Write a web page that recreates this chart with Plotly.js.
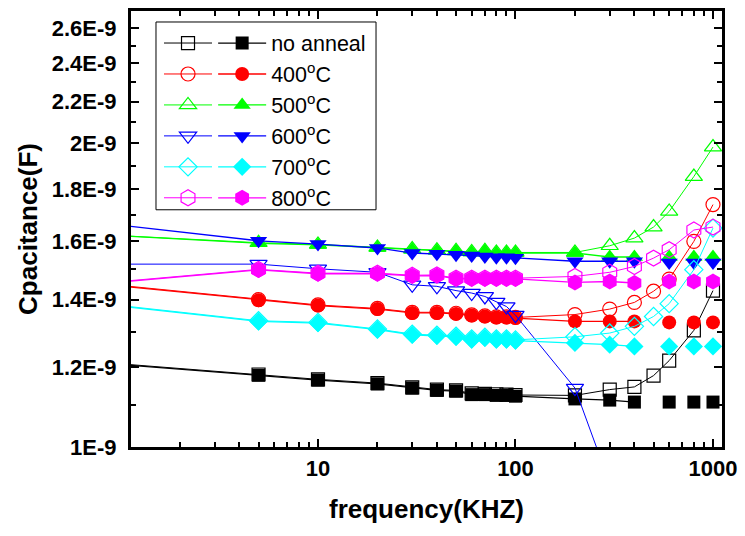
<!DOCTYPE html>
<html>
<head>
<meta charset="utf-8">
<script src="https://cdn.plot.ly/plotly-3.0.1.min.js"></script>
<style>html,body{margin:0;padding:0;background:#fff;}#chart{width:745px;height:536px;}</style>
</head>
<body>
<div id="chart"></div>
<script>
// frequencies (kHz)
var freqLine = [1,5,10,20,30,40,50,60,70,80,90,100,200,300,400];
var freqTail = [600,800,1000];
var freqOpen = [1,5,10,20,30,40,50,60,70,80,90,100,200,300,400,500,600,800,1000];
var freqOpen600 = [1,5,10,20,30,40,50,60,70,80,90,100,200,300];

// capacitance values in units of 1E-9 F
var noAnnealFilled = [1.207,1.178,1.165,1.155,1.144,1.138,1.136,1.127,1.127,1.125,1.125,1.123,1.116,1.113,1.108];
var noAnnealTail   = [1.108,1.108,1.108];
var noAnnealOpen   = [1.209,1.180,1.167,1.157,1.146,1.140,1.138,1.130,1.129,1.128,1.127,1.126,1.125,1.140,1.147,1.177,1.218,1.305,1.429];

var c400Filled = [1.444,1.398,1.381,1.370,1.358,1.358,1.355,1.350,1.347,1.344,1.344,1.342,1.332,1.332,1.332];
var c400Tail   = [1.329,1.329,1.329];
var c400Open   = [1.446,1.400,1.383,1.372,1.360,1.360,1.357,1.352,1.349,1.346,1.346,1.344,1.353,1.370,1.391,1.427,1.467,1.599,1.739];

var c500Filled = [1.619,1.592,1.586,1.575,1.569,1.565,1.563,1.559,1.563,1.557,1.557,1.557,1.557,1.543,1.543];
var c500Tail   = [1.543,1.543,1.543];
var c500Open   = [1.620,1.594,1.588,1.577,1.571,1.567,1.565,1.561,1.565,1.559,1.559,1.559,1.559,1.583,1.611,1.652,1.712,1.854,1.983];

var c600Filled = [1.659,1.601,1.589,1.575,1.557,1.554,1.551,1.548,1.545,1.542,1.542,1.540,1.528,1.528,1.528];
var c600Tail   = [1.524,1.524,1.524];
var c600Open   = [1.518,1.518,1.502,1.490,1.448,1.443,1.429,1.421,1.410,1.392,1.378,1.351,1.144,0.92];

var c700Filled = [1.379,1.332,1.327,1.307,1.292,1.289,1.286,1.278,1.283,1.278,1.278,1.275,1.268,1.263,1.258];
var c700Tail   = [1.258,1.258,1.258];
var c700Open   = [1.381,1.334,1.329,1.309,1.294,1.291,1.288,1.280,1.285,1.280,1.280,1.277,1.286,1.297,1.317,1.347,1.387,1.499,1.648];

var c800Filled = [1.457,1.498,1.485,1.485,1.478,1.479,1.468,1.468,1.468,1.468,1.468,1.468,1.456,1.459,1.454];
var c800Tail   = [1.459,1.459,1.459];
var c800Open   = [1.459,1.500,1.487,1.487,1.480,1.481,1.470,1.470,1.470,1.470,1.470,1.470,1.476,1.490,1.510,1.539,1.569,1.641,1.652];

var seriesNames = ['no anneal','400<sup>o</sup>C','500<sup>o</sup>C','600<sup>o</sup>C','700<sup>o</sup>C','800<sup>o</sup>C'];

var yTickVals = [1.0,1.2,1.4,1.6,1.8,2.0,2.2,2.4,2.6];
var yTickText = ['1E-9','1.2E-9','1.4E-9','1.6E-9','1.8E-9','2E-9','2.2E-9','2.4E-9','2.6E-9'];
var yMinorVals = [1.1,1.3,1.5,1.7,1.9,2.1,2.3,2.5,2.7];
var xTickVals = [10,100,1000];
var xTickText = ['10','100','1000'];
var xMinorVals = [2,3,4,5,6,7,8,9,20,30,40,50,60,70,80,90,200,300,400,500,600,700,800,900];

var scale = 1e-9;
function sc(a){ return a.map(function(v){ return v*scale; }); }

var series = [
  {name: seriesNames[0], color:'#000000', sym:'square',        size:13,   f:noAnnealFilled, t:noAnnealTail, o:noAnnealOpen, fo:freqOpen},
  {name: seriesNames[1], color:'#ff0000', sym:'circle',        size:14,   f:c400Filled, t:c400Tail, o:c400Open, fo:freqOpen},
  {name: seriesNames[2], color:'#00ff00', sym:'triangle-up',   size:15,   f:c500Filled, t:c500Tail, o:c500Open, fo:freqOpen},
  {name: seriesNames[3], color:'#0000ff', sym:'triangle-down', size:15,   f:c600Filled, t:c600Tail, o:c600Open, fo:freqOpen600},
  {name: seriesNames[4], color:'#00ffff', sym:'diamond',       size:14,   f:c700Filled, t:c700Tail, o:c700Open, fo:freqOpen},
  {name: seriesNames[5], color:'#ff00ff', sym:'hexagon',       size:16,   f:c800Filled, t:c800Tail, o:c800Open, fo:freqOpen}
];

var traces = [];
series.forEach(function(s){
  traces.push({
    type:'scatter', mode:'lines+markers', x:s.fo, y:sc(s.o), name:'', legend:'legend2',
    line:{color:s.color, width:1},
    marker:{symbol:s.sym+'-open', size:s.size, color:s.color, line:{color:s.color, width:1.2}},
    hoverinfo:'skip'
  });
  traces.push({
    type:'scatter', mode:'lines+markers', x:freqLine, y:sc(s.f), name:s.name, legend:'legend',
    line:{color:s.color, width:1.3},
    marker:{symbol:s.sym, size:s.size, color:s.color, line:{width:0}},
    hoverinfo:'skip'
  });
  traces.push({
    type:'scatter', mode:'markers', x:freqTail, y:sc(s.t), showlegend:false,
    marker:{symbol:s.sym, size:s.size, color:s.color, line:{width:0}},
    hoverinfo:'skip'
  });
});

var FONT = 'Liberation Sans, Arial, Helvetica, sans-serif';
var tickFont = {family:FONT, size:22, color:'#000', weight:'bold'};
var titleFont = {family:FONT, size:26, color:'#000', weight:'bold'};
var legFont = {family:FONT, size:21.5, color:'#000'};

var layout = {
  width:745, height:536,
  margin:{l:131, r:23, t:11, b:88.5, pad:0},
  paper_bgcolor:'#fff', plot_bgcolor:'#fff',
  showlegend:true,
  xaxis:{
    type:'log', range:[0.0532, 3.0456], autorange:false,
    tickmode:'array', tickvals:xTickVals, ticktext:xTickText,
    ticks:'inside', ticklen:8, tickwidth:2, tickcolor:'#000',
    showline:true, linewidth:3, linecolor:'#000', mirror:'allticks',
    showgrid:false, zeroline:false, tickfont:tickFont,
    minor:{tickmode:'array', tickvals:xMinorVals, ticks:'inside', ticklen:5, tickwidth:2, tickcolor:'#000', showgrid:false},
    title:{text:'frequency(KHZ)', font:titleFont, standoff:20}
  },
  yaxis:{
    type:'log', range:[-9, -8.5678], autorange:false,
    tickmode:'array', tickvals:sc(yTickVals), ticktext:yTickText,
    ticks:'inside', ticklen:8, tickwidth:2, tickcolor:'#000',
    showline:true, linewidth:3, linecolor:'#000', mirror:'allticks',
    showgrid:false, zeroline:false, tickfont:tickFont, ticklabelstandoff:7,
    minor:{tickmode:'array', tickvals:sc(yMinorVals), ticks:'inside', ticklen:5, tickwidth:2, tickcolor:'#000', showgrid:false},
    title:{text:'Cpacitance(F)', font:titleFont, standoff:7}
  },
  legend:{
    x:0.139, y:0.9735, xanchor:'left', yanchor:'top',
    bgcolor:'rgba(0,0,0,0)', borderwidth:0, font:legFont,
    itemwidth:48, traceorder:'normal', tracegroupgap:0, itemclick:false, itemdoubleclick:false
  },
  legend2:{
    x:0.0474, y:0.9735, xanchor:'left', yanchor:'top',
    bgcolor:'rgba(0,0,0,0)', borderwidth:0, font:legFont,
    itemwidth:48, traceorder:'normal', tracegroupgap:0, itemclick:false, itemdoubleclick:false
  },
  shapes:[{
    type:'rect', xref:'paper', yref:'paper', x0:0.0423, x1:0.4146, y0:0.5441, y1:0.9748,
    line:{color:'#000', width:1}, fillcolor:'rgba(0,0,0,0)', layer:'above'
  }]
};

Plotly.newPlot('chart', traces, layout, {displayModeBar:false, staticPlot:true});
</script>
</body>
</html>
